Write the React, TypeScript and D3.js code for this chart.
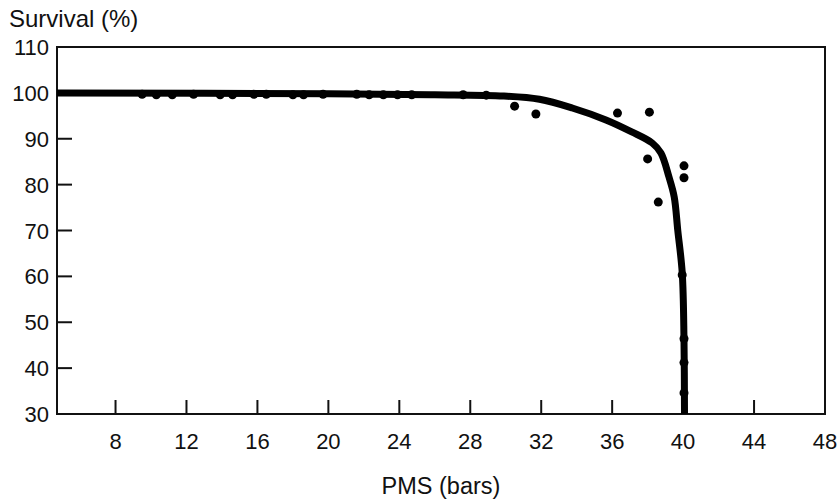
import React from "react";
import * as d3 from "d3";

const pointX = [9.5, 10.3, 11.2, 12.4, 13.9, 14.6, 15.8, 16.5, 18.0, 18.6, 19.7, 21.6, 22.3, 23.1, 23.9, 24.7, 27.6, 28.9,
  30.5, 31.7, 36.3, 38.1, 38.0, 40.05, 40.05, 38.6, 39.95, 40.05, 40.05, 40.05];
const pointY = [99.7, 99.6, 99.6, 99.7, 99.6, 99.6, 99.7, 99.7, 99.6, 99.6, 99.7, 99.7, 99.6, 99.6, 99.6, 99.6, 99.6, 99.5,
  97.1, 95.4, 95.6, 95.8, 85.6, 84.1, 81.5, 76.2, 60.3, 46.4, 41.2, 34.6];

const curveX = [4.7, 20, 26, 29.9, 31.9, 33.75, 35.65, 37.1, 38.25, 38.75, 39.2, 39.5, 39.7, 39.95, 40.05, 40.08];
const curveY = [100, 99.8, 99.6, 99.3, 98.6, 96.7, 94.1, 91.5, 89.1, 86.9, 81.7, 77.3, 70, 60.8, 46.2, 29];

const xTicks = [8, 12, 16, 20, 24, 28, 32, 36, 40, 44, 48];
const yTicks = [30, 40, 50, 60, 70, 80, 90, 100, 110];

export default function App() {
  const W = 837, H = 500;
  const left = 57, right = 825, top = 47, bottom = 414;
  const x = d3.scaleLinear().domain([4.7, 48]).range([left, right]);
  const y = d3.scaleLinear().domain([30, 110]).range([bottom, top]);
  const line = d3.line<number>()
    .x((_, i) => x(curveX[i]))
    .y((_, i) => y(curveY[i]))
    .curve(d3.curveCatmullRom.alpha(0.5));
  const font = "'Liberation Sans', Arial, Helvetica, sans-serif";
  return (
    <svg width={W} height={H} style={{ position: "absolute", left: 0, top: 0, background: "#fff" }}>
      <defs>
        <clipPath id="plot">
          <rect x={left} y={top} width={right - left} height={bottom - top} />
        </clipPath>
      </defs>
      <rect x={left} y={top} width={right - left} height={bottom - top} fill="none" stroke="#111" strokeWidth={2} />
      {xTicks.filter(t => t < 48).map(t => (
        <line key={"xt" + t} x1={x(t)} x2={x(t)} y1={bottom} y2={bottom - 14} stroke="#111" strokeWidth={2} />
      ))}
      {yTicks.filter(t => t > 30 && t < 110).map(t => (
        <line key={"yt" + t} x1={left} x2={left + 15} y1={y(t)} y2={y(t)} stroke="#111" strokeWidth={2} />
      ))}
      {xTicks.map(t => (
        <text key={"xl" + t} x={x(t)} y={449} textAnchor="middle" fontFamily={font} fontSize={22} fill="#111">{t}</text>
      ))}
      {yTicks.map(t => (
        <text key={"yl" + t} x={49} y={y(t) + 8} textAnchor="end" fontFamily={font} fontSize={22} fill="#111">{t}</text>
      ))}
      <text x={9} y={27} fontFamily={font} fontSize={24} fill="#111">Survival (%)</text>
      <text x={441} y={494} textAnchor="middle" fontFamily={font} fontSize={23.5} fill="#111">PMS (bars)</text>
      <g clipPath="url(#plot)">
        <path d={line(curveX) || ""} fill="none" stroke="#000" strokeWidth={7} strokeLinejoin="round" strokeLinecap="butt" />
        {pointX.map((px, i) => (
          <circle key={"p" + i} cx={x(px)} cy={y(pointY[i])} r={4.5} fill="#000" />
        ))}
      </g>
    </svg>
  );
}
